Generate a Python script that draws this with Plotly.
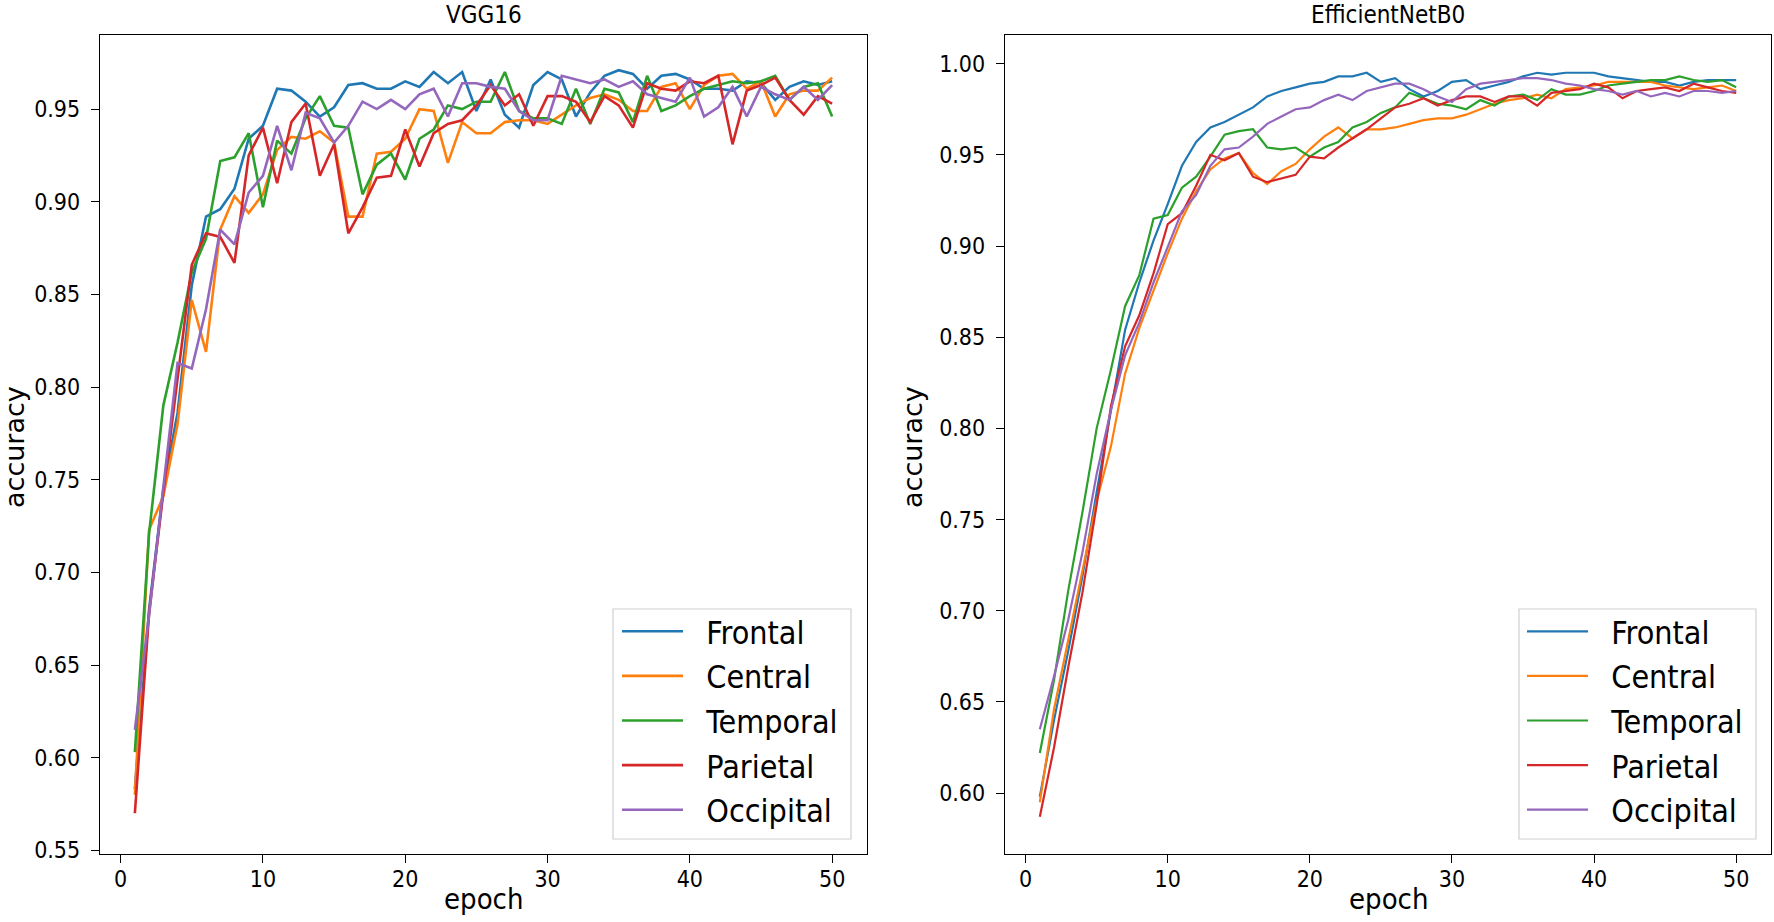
import plotly.graph_objects as go

epochs = list(range(1, 51))
series_names = ["Frontal", "Central", "Temporal", "Parietal", "Occipital"]
colors = ["#1f77b4", "#ff7f0e", "#2ca02c", "#d62728", "#9467bd"]

vgg_frontal = [0.583, 0.680, 0.745, 0.786, 0.855, 0.892, 0.896, 0.907, 0.934, 0.941,
               0.961, 0.960, 0.954, 0.946, 0.951, 0.963, 0.964, 0.961, 0.961, 0.965,
               0.962, 0.970, 0.964, 0.970, 0.949, 0.966, 0.947, 0.940, 0.963, 0.970,
               0.966, 0.946, 0.959, 0.968, 0.971, 0.969, 0.961, 0.968, 0.969, 0.966,
               0.961, 0.961, 0.960, 0.965, 0.964, 0.955, 0.962, 0.965, 0.963, 0.965]
vgg_central = [0.580, 0.723, 0.741, 0.780, 0.847, 0.819, 0.885, 0.903, 0.894, 0.904,
               0.928, 0.935, 0.934, 0.938, 0.932, 0.892, 0.892, 0.926, 0.927, 0.934,
               0.950, 0.949, 0.921, 0.943, 0.937, 0.937, 0.943, 0.944, 0.944, 0.942,
               0.947, 0.952, 0.956, 0.958, 0.955, 0.949, 0.949, 0.962, 0.964, 0.950,
               0.963, 0.968, 0.969, 0.961, 0.965, 0.946, 0.958, 0.960, 0.960, 0.967]
vgg_temporal = [0.603, 0.721, 0.790, 0.824, 0.862, 0.880, 0.922, 0.924, 0.937, 0.897,
                0.933, 0.926, 0.945, 0.957, 0.941, 0.940, 0.904, 0.920, 0.926, 0.912,
                0.934, 0.939, 0.952, 0.950, 0.954, 0.954, 0.970, 0.949, 0.945, 0.945,
                0.942, 0.961, 0.942, 0.961, 0.959, 0.943, 0.968, 0.949, 0.952, 0.957,
                0.961, 0.963, 0.965, 0.964, 0.965, 0.968, 0.955, 0.962, 0.964, 0.946]
vgg_parietal = [0.570, 0.678, 0.743, 0.804, 0.866, 0.883, 0.881, 0.867, 0.925, 0.940,
                0.910, 0.943, 0.953, 0.914, 0.931, 0.883, 0.897, 0.913, 0.914, 0.939,
                0.919, 0.937, 0.942, 0.944, 0.952, 0.963, 0.952, 0.958, 0.941, 0.957,
                0.957, 0.954, 0.943, 0.957, 0.952, 0.940, 0.964, 0.961, 0.960, 0.965,
                0.964, 0.968, 0.931, 0.960, 0.963, 0.967, 0.955, 0.947, 0.957, 0.953]
vgg_occipital = [0.615, 0.677, 0.746, 0.813, 0.810, 0.842, 0.885, 0.877, 0.905, 0.914,
                 0.941, 0.917, 0.948, 0.945, 0.932, 0.941, 0.954, 0.950, 0.955, 0.950,
                 0.958, 0.961, 0.946, 0.964, 0.964, 0.962, 0.961, 0.949, 0.944, 0.944,
                 0.968, 0.966, 0.964, 0.966, 0.962, 0.965, 0.958, 0.956, 0.954, 0.967,
                 0.946, 0.951, 0.962, 0.946, 0.962, 0.958, 0.955, 0.962, 0.955, 0.963]

eff_frontal = [0.598, 0.640, 0.678, 0.719, 0.765, 0.810, 0.854, 0.880, 0.903, 0.923,
               0.944, 0.957, 0.965, 0.968, 0.972, 0.976, 0.982, 0.985, 0.987, 0.989,
               0.990, 0.993, 0.993, 0.995, 0.990, 0.992, 0.986, 0.982, 0.985, 0.990,
               0.991, 0.986, 0.988, 0.990, 0.993, 0.995, 0.994, 0.995, 0.995, 0.995,
               0.993, 0.992, 0.991, 0.990, 0.990, 0.988, 0.990, 0.991, 0.991, 0.991]
eff_central = [0.595, 0.646, 0.684, 0.723, 0.760, 0.790, 0.830, 0.855, 0.876, 0.896,
               0.915, 0.930, 0.942, 0.948, 0.951, 0.940, 0.934, 0.941, 0.945, 0.953,
               0.960, 0.965, 0.959, 0.964, 0.964, 0.965, 0.967, 0.969, 0.970, 0.970,
               0.972, 0.975, 0.978, 0.980, 0.981, 0.983, 0.981, 0.986, 0.987, 0.988,
               0.990, 0.990, 0.990, 0.990, 0.988, 0.987, 0.986, 0.987, 0.988, 0.985]
eff_temporal = [0.622, 0.662, 0.711, 0.754, 0.800, 0.832, 0.867, 0.884, 0.915, 0.917,
                0.932, 0.938, 0.949, 0.961, 0.963, 0.964, 0.954, 0.953, 0.954, 0.949,
                0.954, 0.957, 0.965, 0.968, 0.973, 0.976, 0.984, 0.981, 0.978, 0.977,
                0.975, 0.980, 0.977, 0.982, 0.983, 0.980, 0.986, 0.983, 0.983, 0.985,
                0.988, 0.989, 0.990, 0.991, 0.991, 0.993, 0.991, 0.990, 0.991, 0.987]
eff_parietal = [0.587, 0.625, 0.669, 0.710, 0.758, 0.812, 0.845, 0.862, 0.885, 0.912,
                0.918, 0.933, 0.950, 0.947, 0.951, 0.938, 0.935, 0.937, 0.939, 0.949,
                0.948, 0.954, 0.959, 0.964, 0.970, 0.976, 0.978, 0.981, 0.977, 0.980,
                0.982, 0.982, 0.979, 0.982, 0.982, 0.977, 0.984, 0.985, 0.986, 0.989,
                0.987, 0.981, 0.985, 0.986, 0.987, 0.985, 0.989, 0.987, 0.985, 0.984]
eff_occipital = [0.635, 0.664, 0.695, 0.732, 0.775, 0.810, 0.840, 0.858, 0.880, 0.900,
                 0.919, 0.928, 0.944, 0.953, 0.954, 0.960, 0.967, 0.971, 0.975, 0.976,
                 0.980, 0.983, 0.980, 0.985, 0.987, 0.989, 0.989, 0.986, 0.982, 0.979,
                 0.986, 0.989, 0.990, 0.991, 0.992, 0.992, 0.991, 0.989, 0.988, 0.986,
                 0.985, 0.983, 0.985, 0.982, 0.984, 0.982, 0.985, 0.985, 0.984, 0.985]

vgg_series = [vgg_frontal, vgg_central, vgg_temporal, vgg_parietal, vgg_occipital]
eff_series = [eff_frontal, eff_central, eff_temporal, eff_parietal, eff_occipital]

x_ticks = [0, 10, 20, 30, 40, 50]
vgg_yticks = [0.55, 0.60, 0.65, 0.70, 0.75, 0.80, 0.85, 0.90, 0.95]
eff_yticks = [0.60, 0.65, 0.70, 0.75, 0.80, 0.85, 0.90, 0.95, 1.00]

COND = "DejaVu Sans Condensed, DejaVu Sans, sans-serif"
NORM = "DejaVu Sans, sans-serif"
NB = "\u00a0\u00a0"

W, H = 1774, 922
ML, MR, MT, MB = 100, 3, 35, 68
PW = W - ML - MR
PH = H - MT - MB


def px(xp):
    return (xp - ML) / PW


def py(yp):
    return (H - MB - yp) / PH


fig = go.Figure()

for i, name in enumerate(series_names):
    fig.add_trace(go.Scatter(x=epochs, y=vgg_series[i], mode="lines", name=NB + name,
                             line=dict(color=colors[i], width=2.6),
                             xaxis="x", yaxis="y", legend="legend",
                             legendgroup="a" + name))
for i, name in enumerate(series_names):
    fig.add_trace(go.Scatter(x=epochs, y=eff_series[i], mode="lines", name=NB + name,
                             line=dict(color=colors[i], width=2.2),
                             xaxis="x2", yaxis="y2", legend="legend2",
                             legendgroup="b" + name))

axis_common = dict(showline=True, linecolor="black", linewidth=1.4, mirror=True,
                   ticks="outside", ticklen=8, tickwidth=1.3, tickcolor="black",
                   showgrid=False, zeroline=False,
                   tickfont=dict(family=COND, size=23, color="#000000"))

xd1 = [0, px(867)]
xd2 = [px(1005), 1]

legend_common = dict(xanchor="left", yanchor="top", bgcolor="rgba(0,0,0,0)",
                     borderwidth=0, font=dict(family=COND, size=32, color="#000000"),
                     traceorder="grouped", tracegroupgap=0, itemwidth=61)

fig.update_layout(
    width=W, height=H,
    margin=dict(l=ML, r=MR, t=MT, b=MB, pad=0),
    paper_bgcolor="white", plot_bgcolor="white",
    showlegend=True,
    xaxis=dict(domain=xd1, range=[-1.45, 52.45], tickvals=x_ticks, anchor="y",
               **axis_common),
    yaxis=dict(domain=[0, 1], range=[0.548, 0.990], tickvals=vgg_yticks,
               tickformat=".2f", anchor="x", ticklabelstandoff=6, **axis_common),
    xaxis2=dict(domain=xd2, range=[-1.45, 52.45], tickvals=x_ticks, anchor="y2",
                **axis_common),
    yaxis2=dict(domain=[0, 1], range=[0.5666, 1.0157], tickvals=eff_yticks,
                tickformat=".2f", anchor="x2", ticklabelstandoff=6, **axis_common),
    legend=dict(x=px(617), y=py(604), **legend_common),
    legend2=dict(x=px(1522), y=py(604), **legend_common),
)

# pull x tick labels slightly closer to the axis, if supported
try:
    fig.update_layout(xaxis_ticklabelstandoff=-4, xaxis2_ticklabelstandoff=-4)
except Exception:
    pass

# legend frames (matplotlib style box)
for x0, x1 in [(613, 851), (1519, 1756)]:
    fig.add_shape(type="rect", xref="paper", yref="paper",
                  x0=px(x0), x1=px(x1), y0=py(839), y1=py(609),
                  line=dict(color="#d0d0d0", width=1.2),
                  fillcolor="rgba(255,255,255,0.8)", layer="above")

# titles
for cx, txt in [((100 + 867) / 2, "VGG16"), ((1005 + 1771) / 2, "EfficientNetB0")]:
    fig.add_annotation(x=px(cx), y=py(14.5), xref="paper", yref="paper", text=txt,
                       showarrow=False, xanchor="center", yanchor="middle",
                       font=dict(family=COND, size=24, color="#000000"))
# x axis titles
for cx in [(100 + 867) / 2, (1005 + 1771) / 2]:
    fig.add_annotation(x=px(cx), y=py(899), xref="paper", yref="paper", text="epoch",
                       showarrow=False, xanchor="center", yanchor="middle",
                       font=dict(family=COND, size=29, color="#000000"))
# y axis titles
for cx in [14, 912]:
    fig.add_annotation(x=px(cx), y=py(447), xref="paper", yref="paper", text="accuracy",
                       showarrow=False, xanchor="center", yanchor="middle", textangle=-90,
                       font=dict(family=NORM, size=27, color="#000000"))

fig.write_html("out.html", config={"displayModeBar": False},
               post_script="document.body.style.margin='0px';")
